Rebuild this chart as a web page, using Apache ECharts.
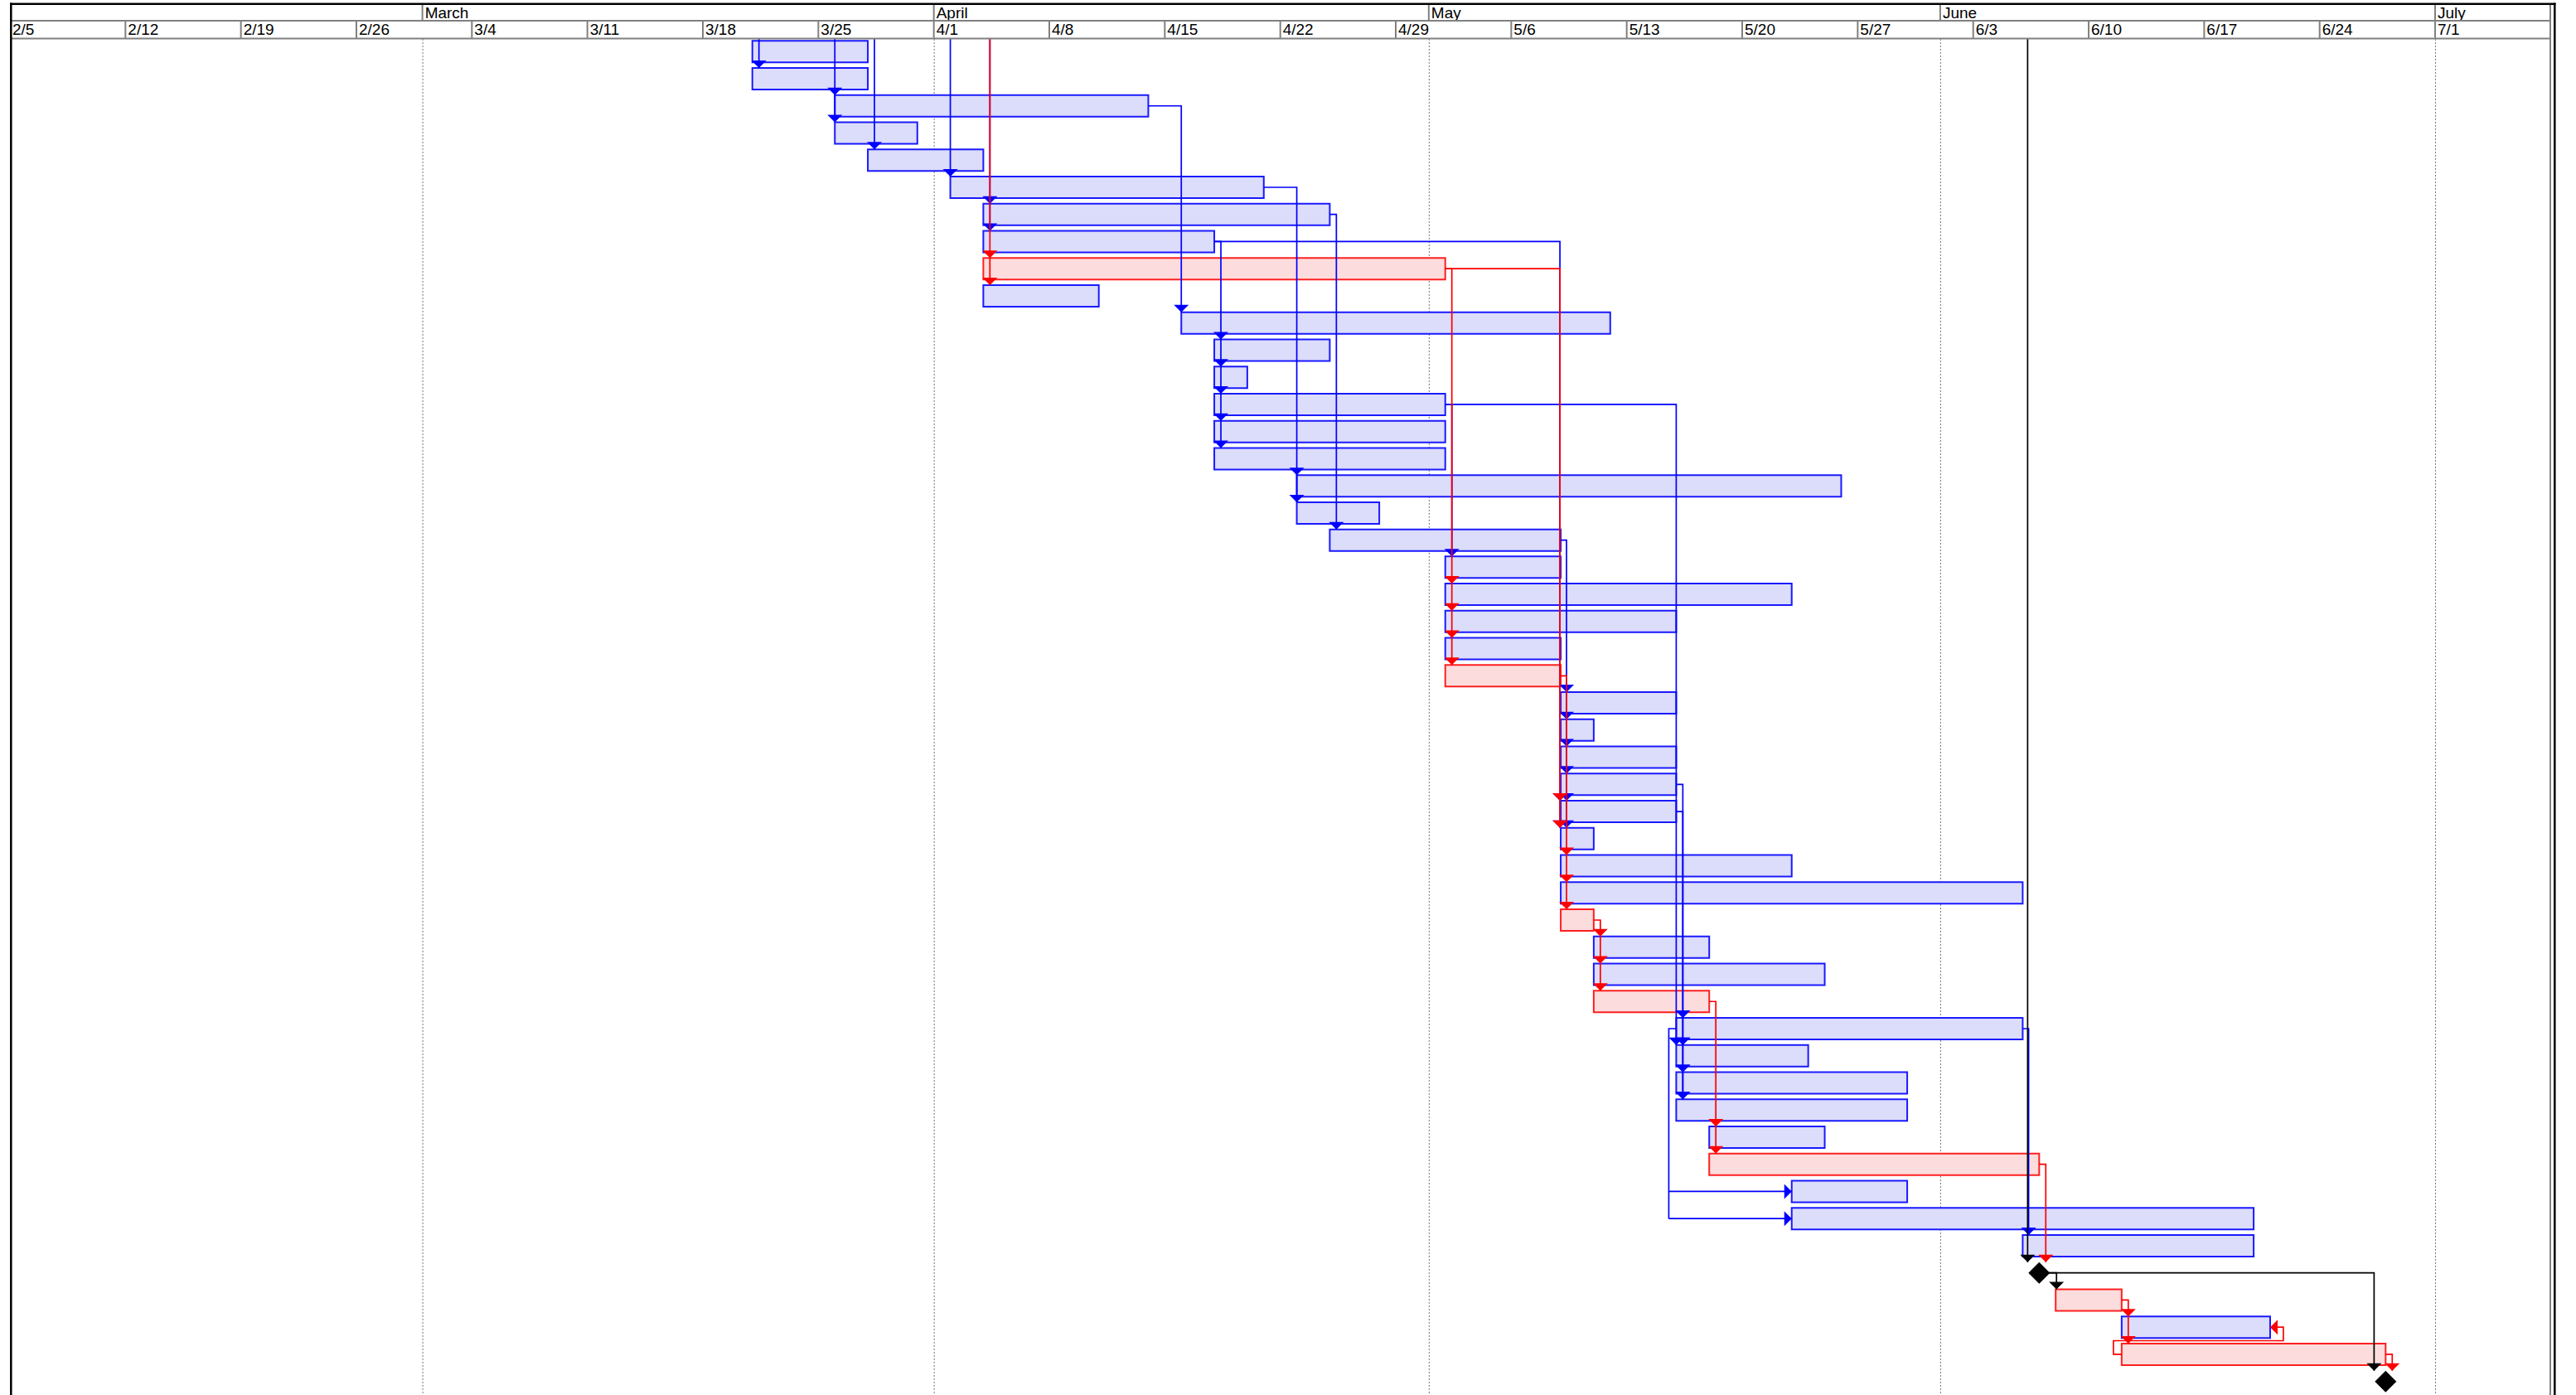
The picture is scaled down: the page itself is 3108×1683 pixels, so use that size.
<!DOCTYPE html>
<html><head><meta charset="utf-8">
<script src="https://cdn.jsdelivr.net/npm/echarts@6/dist/echarts.min.js"></script>
<style>html,body{margin:0;padding:0;background:#fff}#c{width:3108px;height:1683px}</style>
</head><body><div id="c"></div>
<script>
// ---- timescale (day 0 = 2/5) ----
const weekLabels = ['2/5','2/12','2/19','2/26','3/4','3/11','3/18','3/25','4/1','4/8','4/15','4/22','4/29','5/6','5/13','5/20','5/27','6/3','6/10','6/17','6/24','7/1'];
const weekDays   = [0,7,14,21,28,35,42,49,56,63,70,77,84,91,98,105,112,119,126,133,140,147];
const monthLabels = ['March','April','May','June','July'];
const monthDays   = [25,56,86,117,147];

// ---- tasks (one per row, top to bottom) ----
const taskStart = [45,45,50,50,52,57,59,59,59,59,71,73,73,73,73,73,78,78,80,87,87,87,87,87,94,94,94,94,94,94,94,94,94,96,96,96,101,101,101,101,103,103,108,108,122,123,124,128,128,144];
const taskEnd   = [52,52,69,55,59,76,80,73,87,66,97,80,75,87,87,87,111,83,94,94,108,101,94,94,101,96,101,101,101,96,108,122,96,103,110,103,122,109,115,115,110,123,115,136,136,123,128,137,144,144];
// 0 = normal (blue), 1 = critical (red), 2 = milestone
const taskType  = [0,0,0,0,0,0,0,0,1,0,0,0,0,0,0,0,0,0,0,0,0,0,0,1,0,0,0,0,0,0,0,0,1,0,0,1,0,0,0,0,0,1,0,0,0,2,1,0,1,2];

// ---- finish-to-start links: predecessor row (-1 = from above), day of vertical run, successor rows ----
const linkFrom  = [-1,-1,-1,-1,-1,2,7,7,5,6,13,18,13,27,28,36,-1,45,45,-1,8,8,23,32,35,41,46,48];
const linkX     = [45.4,50,52.4,57,59.4,71,73.4,93.95,78,80.4,87.4,94.35,101,101.4,101.4,122.36,122.3,124.05,143.3,59.4,87.4,93.95,94.35,96.4,103.4,123.4,128.4,144.4];
const linkTo    = [[1],[2,3],[4],[5],[6,7],[10],[11,12,13,14,15],[28,29],[16,17],[18],[19],[24,25,26,27,28,29],[37],[36,37,38,39],[36,37,38,39],[44],[45],[46],[49],[8,9],[20,21,22,23],[28,29],[30,31,32],[33,34,35],[40,41],[45],[47,48],[49]];
const linkColor = ['b','b','b','b','b','b','b','b','b','b','b','b','b','b','b','b','k','k','k','r','r','r','r','r','r','r','r','r'];
// start-to-start link (row 36 -> rows 42, 43) and finish-to-finish link (row 48 -> row 47)
const ssFrom = 36, ssX = 100.55, ssTo = [42,43];
const ffFrom = 48, ffTo = 47, ffLeftX = 127.5, ffRightX = 137.8, ffMidRow = 47.5;

const FONT = '"Liberation Sans", Arial, sans-serif';
const H = 0.397;
const COL = {b:'#0000ff', r:'#ff0000', k:'#000000'};
const GRAY = '#808080';

function downArrow(x, yTip, c){
  return {type:'polygon', shape:{points:[[x-9,yTip-9],[x+9,yTip-9],[x,yTip]]}, style:{fill:c}};
}

function renderWeek(params, api){
  const i = params.dataIndex;
  const p = api.coord([api.value(0), -0.5]);
  const x = p[0], hb = p[1];
  const ch = [];
  if (i > 0) ch.push({type:'line', shape:{x1:x,y1:hb-21,x2:x,y2:hb}, style:{stroke:GRAY,lineWidth:2}});
  ch.push({type:'text', style:{text:weekLabels[i], x:x+3, y:hb-10, fill:'#000', fontSize:19, fontFamily:FONT, verticalAlign:'middle', align:'left'}});
  return {type:'group', children:ch};
}
function renderMonth(params, api){
  const i = params.dataIndex;
  const p = api.coord([api.value(0), -0.5]);
  const x = p[0], hb = p[1];
  return {type:'group', children:[
    {type:'line', shape:{x1:x,y1:hb-41,x2:x,y2:hb-21}, style:{stroke:GRAY,lineWidth:2}},
    {type:'line', shape:{x1:x+0.5,y1:hb+1,x2:x+0.5,y2:1683}, style:{stroke:'#707070',lineWidth:1,lineDash:[2,2]}},
    {type:'text', style:{text:monthLabels[i], x:x+3, y:hb-30.5, fill:'#000', fontSize:19, fontFamily:FONT, verticalAlign:'middle', align:'left'}}
  ]};
}
function renderBar(params, api){
  const s = api.value(0), e = api.value(1), r = api.value(2), k = api.value(3);
  if (k === 2) return null;
  const p0 = api.coord([s, r-H]), p1 = api.coord([e, r+H]);
  return {type:'rect', shape:{x:p0[0], y:p0[1], width:p1[0]-p0[0], height:p1[1]-p0[1]},
    style:{fill: k===1 ? '#fcdcdc' : '#dcdcfb', stroke: k===1 ? '#ff2020' : '#1a1aff', lineWidth:2}};
}
function renderMilestone(params, api){
  const s = api.value(0), r = api.value(2), k = api.value(3);
  if (k !== 2) return null;
  const c = api.coord([s, r]);
  return {type:'polygon', shape:{points:[[c[0],c[1]-13],[c[0]+13,c[1]],[c[0],c[1]+13],[c[0]-13,c[1]]]}, style:{fill:'#000'}};
}
function renderLink(params, api){
  const i = params.dataIndex;
  const c = COL[linkColor[i]];
  const src = linkFrom[i], x = linkX[i], tos = linkTo[i];
  const last = Math.max.apply(null, tos);
  const pts = [];
  if (src >= 0) {
    pts.push(api.coord([taskEnd[src], src]));
    pts.push(api.coord([x, src]));
  } else {
    pts.push(api.coord([x, -0.5]));
  }
  pts.push(api.coord([x, last-H]));
  const ch = [{type:'polyline', shape:{points:pts}, style:{stroke:c, lineWidth:1.7, fill:null}}];
  tos.forEach(t => { const q = api.coord([x, t-H]); ch.push(downArrow(q[0], q[1], c)); });
  return {type:'group', children:ch};
}
function renderSpecial(params, api){
  const ch = [];
  // start-to-start
  const lastSS = Math.max.apply(null, ssTo);
  ch.push({type:'polyline', shape:{points:[api.coord([taskStart[ssFrom], ssFrom]), api.coord([ssX, ssFrom]), api.coord([ssX, lastSS])]}, style:{stroke:COL.b, lineWidth:1.7, fill:null}});
  ssTo.forEach(t => {
    const a = api.coord([ssX, t]), b = api.coord([taskStart[t], t]);
    ch.push({type:'line', shape:{x1:a[0],y1:a[1],x2:b[0],y2:b[1]}, style:{stroke:COL.b, lineWidth:1.7}});
    ch.push({type:'polygon', shape:{points:[[b[0]-9,b[1]-9],[b[0]-9,b[1]+9],[b[0],b[1]]]}, style:{fill:COL.b}});
  });
  // finish-to-finish
  const tip = api.coord([taskEnd[ffTo], ffTo]);
  ch.push({type:'polyline', shape:{points:[
    api.coord([taskStart[ffFrom], ffFrom]), api.coord([ffLeftX, ffFrom]), api.coord([ffLeftX, ffMidRow]),
    api.coord([ffRightX, ffMidRow]), api.coord([ffRightX, ffTo]), [tip[0]+8, tip[1]]]}, style:{stroke:COL.r, lineWidth:1.7, fill:null}});
  ch.push({type:'polygon', shape:{points:[[tip[0]+9,tip[1]-9],[tip[0]+9,tip[1]+9],[tip[0],tip[1]]]}, style:{fill:COL.r}});
  return {type:'group', children:ch};
}

const taskData = taskStart.map((s, i) => [s, taskEnd[i], i, taskType[i]]);

const chart = echarts.init(document.getElementById('c'), null, {renderer:'svg', width:3108, height:1683});
chart.setOption({
  animation:false,
  backgroundColor:'#ffffff',
  grid:{left:12, top:45.9, width:19.905*154, height:1637.5, containLabel:false},
  xAxis:{type:'value', min:0, max:154, show:false},
  yAxis:{type:'value', min:-0.5, max:49.5, inverse:true, show:false},
  graphic:[
    {type:'line', z:100, shape:{x1:13,y1:25,x2:3077,y2:25}, style:{stroke:GRAY,lineWidth:2}},
    {type:'line', z:100, shape:{x1:13,y1:46.6,x2:3077,y2:46.6}, style:{stroke:GRAY,lineWidth:2}},
    {type:'line', z:100, shape:{x1:3077,y1:5,x2:3077,y2:1683}, style:{stroke:GRAY,lineWidth:2}},
    {type:'line', z:101, shape:{x1:12,y1:4.7,x2:3083.5,y2:4.7}, style:{stroke:'#000',lineWidth:2.5}},
    {type:'line', z:101, shape:{x1:13.3,y1:3.5,x2:13.3,y2:1683}, style:{stroke:'#000',lineWidth:2.5}},
    {type:'line', z:101, shape:{x1:3082.3,y1:3.5,x2:3082.3,y2:1683}, style:{stroke:'#000',lineWidth:2.5}}
  ],
  series:[
    {type:'custom', name:'months', renderItem:renderMonth, data:monthDays.map((d,i)=>[d,i]), clip:false, silent:true, z:1},
    {type:'custom', name:'weeks', renderItem:renderWeek, data:weekDays.map((d,i)=>[d,i]), clip:false, silent:true, z:1},
    {type:'custom', name:'tasks', renderItem:renderBar, data:taskData, clip:false, silent:true, z:2},
    {type:'custom', name:'links', renderItem:renderLink,
      data:linkX.map((x,i)=>[x,i]), clip:false, silent:true, z:3},
    {type:'custom', name:'special links', renderItem:renderSpecial, data:[[ssX, ssFrom]], clip:false, silent:true, z:3},
    {type:'custom', name:'milestones', renderItem:renderMilestone, data:taskData, clip:false, silent:true, z:4}
  ]
});
</script>
</body></html>
